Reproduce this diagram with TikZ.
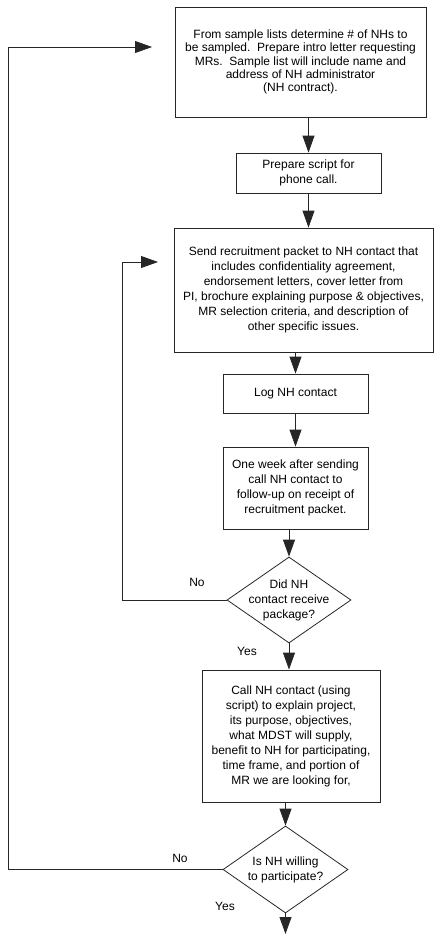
\documentclass[tikz,border=0pt]{standalone}
\usepackage{fontspec}
\setmainfont{Liberation Sans}
\usetikzlibrary{shapes.geometric,arrows.meta}
\tikzset{
	stepbox/.style={draw=black!85, line width=0.8pt, inner sep=0pt, align=center},
	question/.style={draw=black!85, line width=0.8pt, diamond, inner sep=0pt},
	flow/.style={draw=black!85, line width=0.8pt, -{Triangle[length=17pt,width=12pt]}},
}
\begin{document}
\begin{tikzpicture}[x=1pt, y=-1pt, font=\fontsize{12}{15}\selectfont]
	\useasboundingbox (0,0) rectangle (435,934);
	\node[stepbox, minimum width=251pt, minimum height=110pt, font=\fontsize{12}{13.3}\selectfont] (sample) at (300.5,62) {From sample lists determine \# of NHs to\\be sampled.\ \ Prepare intro letter requesting\\MRs.\ \ Sample list will include name and\\address of NH administrator\\(NH contract).};
	\node[stepbox, minimum width=145pt, minimum height=40pt] (script) at (308.5,173) {Prepare script for\\phone call.};
	\node[stepbox, minimum width=259pt, minimum height=124pt] (packet) at (303.5,290) {Send recruitment packet to NH contact that\\includes confidentiality agreement,\\endorsement letters, cover letter from\\PI, brochure explaining purpose \& objectives,\\MR selection criteria, and description of\\other specific issues.};
	\node[stepbox, minimum width=145pt, minimum height=39pt] (lognh) at (295.5,393.5) {Log NH contact};
	\node[stepbox, minimum width=145pt, minimum height=82pt] (followup) at (295.5,488) {One week after sending\\call NH contact to\\follow-up on receipt of\\recruitment packet.};
	\node[question, minimum width=124pt, minimum height=86pt, label={[align=center]center:Did NH\\contact receive\\package?}] (received) at (289,600) {};
	\node[stepbox, minimum width=178pt, minimum height=132pt] (callnh) at (291,736) {Call NH contact (using\\script) to explain project,\\its purpose, objectives,\\what MDST will supply,\\benefit to NH for participating,\\time frame, and portion of\\MR we are looking for,};
	\node[question, minimum width=125pt, minimum height=87pt, label={[align=center]center:Is NH willing\\to participate?}] (willing) at (285.5,869.5) {};

	% main flow
	\draw[flow] (sample.south -| script.north) -- (script.north);
	\draw[flow] (script.south) -- (script.south |- packet.north);
	\draw[flow] (packet.south -| lognh.north) -- (lognh.north);
	\draw[flow] (lognh.south) -- (followup.north);
	\draw[flow] (followup.south -| received.north) -- (received.north);
	\draw[flow] (received.south) -- (received.south |- callnh.north);
	\draw[flow] (callnh.south -| willing.north) -- (willing.north);
	\coordinate (done) at (285.5,934);
	\draw[flow] (willing.south) -- (done);

	% loops back
	\coordinate (inner) at (122,262);
	\coordinate (resend) at (158,262);
	\draw[flow] (received.west) -| (inner) -- (resend);
	\coordinate (outer) at (8,47);
	\coordinate (restart) at (152,47);
	\draw[flow] (willing.west) -| (outer) -- (restart);

	\node (no1) at (197,582) {No};
	\node (yes1) at (247,651) {Yes};
	\node (no2) at (180,858) {No};
	\node (yes2) at (225,906) {Yes};
\end{tikzpicture}
\end{document}
